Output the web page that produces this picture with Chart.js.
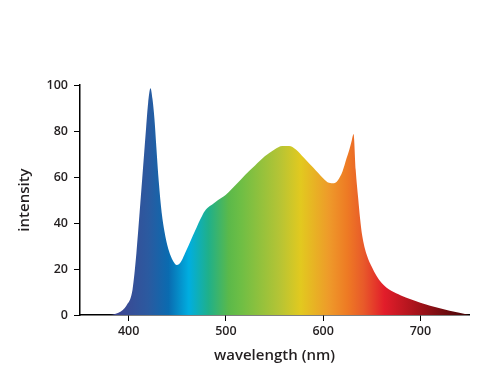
<!DOCTYPE html>
<html>
<head>
<meta charset="utf-8">
<script src="https://cdn.jsdelivr.net/npm/chart.js@4/dist/chart.umd.min.js"></script>
<style>
  html, body { margin: 0; padding: 0; background: #fff; }
  #grafico { display: block; }
</style>
</head>
<body>
<canvas id="grafico" width="500" height="375"></canvas>
<script>
// Dados do espectro
const wavelengths = [350, 370, 380, 386, 392, 396, 399, 401.7, 404, 406, 408, 410, 412, 414, 416, 418, 420, 422.5, 424.5, 426.5, 428.5, 431, 434, 437, 440, 443, 446, 449.5, 452, 455, 458, 462, 466, 470, 474, 478, 481, 486, 492, 500, 510, 520, 530, 540, 550, 558, 565, 572, 580, 590, 600, 606, 611, 615, 620, 624, 627, 629.5, 631.3, 633.5, 636, 638, 640, 645, 650, 655, 660, 665, 670, 680, 690, 700, 710, 720, 730, 740, 747, 750];
const intensity   = [0, 0, 0, 0.4, 1.5, 3, 5, 7, 11, 18, 27, 37.5, 48.5, 59.5, 70.5, 81.5, 92, 98.6, 94, 85.5, 73, 58, 44.5, 36, 30, 26, 23.3, 21.7, 22.2, 24, 26.8, 30.5, 34.5, 38.2, 41.8, 45, 46.5, 48, 50, 52.3, 56.5, 61, 65, 69, 72, 73.5, 73.5, 72, 68.5, 64, 59.5, 57.5, 57.3, 58.5, 62.5, 68, 72, 76, 78.7, 63, 51, 42, 35, 26, 21, 17, 14, 12, 10.5, 8.5, 6.8, 5.3, 4, 2.9, 1.9, 1, 0.3, 0];

// Marcas dos eixos
const xTicks = [400, 500, 600, 700];
const yTicks = [0, 20, 40, 60, 80, 100];

// Cores do gradiente (comprimento de onda -> cor)
const stopNm     = [380, 395, 420, 441, 462, 482, 503, 515, 555, 577, 606, 625, 642, 663, 700, 745];
const stopColors = ['#3a3f8c', '#3b4a94', '#2b5aa0', '#0a6bb0', '#00aee0', '#1fb08a', '#5bb94a', '#6dbe45', '#b5c435', '#e2c91f', '#ee9a2a', '#ee7a24', '#e8592a', '#e21d2a', '#a01219', '#4a0608'];

const pontos = wavelengths.map((w, i) => ({ x: w, y: intensity[i] }));

function gradiente(context) {
    const chart = context.chart;
    const { ctx, chartArea, scales } = chart;
    if (!chartArea) return null;
    const x0 = scales.x.getPixelForValue(350);
    const x1 = scales.x.getPixelForValue(750);
    const g = ctx.createLinearGradient(x0, 0, x1, 0);
    stopNm.forEach((nm, i) => {
        g.addColorStop((nm - 350) / 400, stopColors[i]);
    });
    return g;
}

const corTexto = '#231f20';
const fonteTicks = { family: '"Open Sans", sans-serif', size: 12.5, weight: '600' };
const fonteTitulo = { family: '"Open Sans", sans-serif', size: 15, weight: '600' };

new Chart(document.getElementById('grafico'), {
    type: 'line',
    data: {
        datasets: [{
            data: pontos,
            fill: 'origin',
            backgroundColor: gradiente,
            borderWidth: 0,
            pointRadius: 0,
            cubicInterpolationMode: 'monotone'
        }]
    },
    options: {
        responsive: false,
        animation: false,
        layout: { padding: { top: 85, right: 31, left: 12, bottom: 6 } },
        plugins: { legend: { display: false }, tooltip: { enabled: false } },
        scales: {
            x: {
                type: 'linear',
                min: 350,
                max: 750,
                afterBuildTicks: (scale) => { scale.ticks = xTicks.map(v => ({ value: v })); },
                afterFit: (scale) => { scale.height = 54; },
                grid: { display: true, drawOnChartArea: false, drawTicks: true, tickLength: 6, color: '#000', lineWidth: 1 },
                border: { display: true, color: '#000', width: 1.5 },
                ticks: { color: corTexto, font: fonteTicks, padding: 3, maxRotation: 0 },
                title: { display: true, text: 'wavelength (nm)', color: corTexto, font: fonteTitulo, padding: { top: 4 } }
            },
            y: {
                min: 0,
                max: 100,
                afterBuildTicks: (scale) => { scale.ticks = yTicks.map(v => ({ value: v })); },
                afterFit: (scale) => { scale.width = 68; },
                grid: { display: true, drawOnChartArea: false, drawTicks: true, tickLength: 6, color: '#000', lineWidth: 1 },
                border: { display: true, color: '#000', width: 1.5 },
                ticks: { color: corTexto, font: fonteTicks, padding: 6 },
                title: { display: true, text: 'intensity', color: corTexto, font: fonteTitulo, padding: { bottom: 10 } }
            }
        }
    }
});
</script>
</body>
</html>
